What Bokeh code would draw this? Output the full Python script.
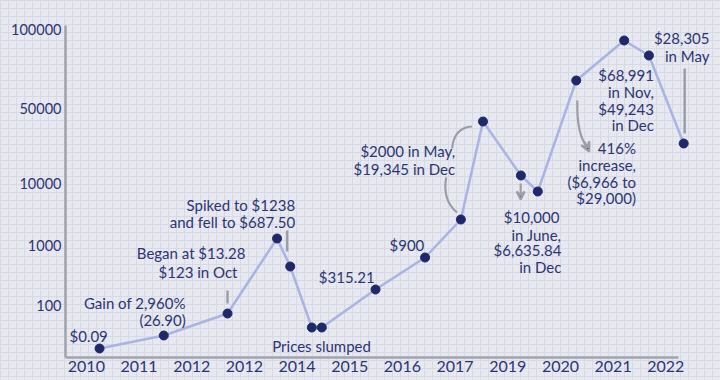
from bokeh.plotting import figure
from bokeh.models import Range1d, FixedTicker, Label, Arrow, VeeHead, GlobalInlineStyleSheet
from bokeh.embed import file_html
from bokeh.resources import INLINE

# ---- data (x = position among the axis labels, y = level on the chart's drawn scale) ----
TICK_LABELS = ["2010", "2011", "2012", "2012", "2014", "2015", "2016", "2017",
               "2019", "2020", "2021", "2022"]
X_POS = [0.25, 1.47, 2.68, 3.62, 3.87, 4.28, 4.47, 5.49, 6.43, 7.11, 7.53,
         8.25, 8.57, 9.30, 10.21, 10.68, 11.34]
Y_LEVEL = [9, 22, 44, 119, 91, 30, 30, 68, 100, 138, 236, 182, 166, 277, 317, 302, 214]
Y_TICK_LEVELS = [52, 112, 174, 249, 328]
Y_TICK_LABELS = ["100", "1000", "10000", "50000", "100000"]

NAVY = "#2c3572"
DOT = "#1f2868"
LINE = "#a9b4e2"
GREY = "#9c9ea7"
AXIS = "#a2a4ad"
FONT = "Lato"

# layout helpers (page pixel -> chart coordinates)
def dx(px):
    return (px - 82) / 53.0

def dy(py):
    return 357 - py

p = figure(width=704, height=371, output_backend="svg", toolbar_location=None,
           x_range=Range1d(dx(61), dx(712)), y_range=Range1d(dy(357), dy(8)),
           min_border_left=53, min_border_right=0, min_border_top=0, min_border_bottom=22)

p.stylesheets = [GlobalInlineStyleSheet(css="""
html { background-color: #e7e8f0;
  background-image: linear-gradient(#d7d9e5 1px, transparent 1px),
                    linear-gradient(90deg, #d7d9e5 1px, transparent 1px);
  background-size: 8px 8px; overflow: hidden; }
body { margin: 8px 8px 0 8px; overflow: hidden; background: transparent; }
""")]

p.background_fill_alpha = 0
p.border_fill_alpha = 0
p.outline_line_color = None
p.grid.visible = False

# axes
p.xaxis.ticker = FixedTicker(ticks=list(range(len(TICK_LABELS))))
p.xaxis.major_label_overrides = {i: t for i, t in enumerate(TICK_LABELS)}
p.yaxis.ticker = FixedTicker(ticks=Y_TICK_LEVELS)
p.yaxis.major_label_overrides = {v: t for v, t in zip(Y_TICK_LEVELS, Y_TICK_LABELS)}
for ax in (p.xaxis, p.yaxis):
    ax.axis_line_color = AXIS
    ax.axis_line_width = 2.5
    ax.major_tick_line_color = None
    ax.minor_tick_line_color = None
    ax.major_tick_out = 0
    ax.major_tick_in = 0
    ax.minor_tick_out = 0
    ax.minor_tick_in = 0
    ax.major_label_text_color = NAVY
    ax.major_label_text_font = FONT
p.xaxis.major_label_text_font_size = "16px"
p.yaxis.major_label_text_font_size = "14.5px"
p.xaxis.major_label_standoff = 3
p.yaxis.major_label_standoff = 4
p.xaxis.bounds = (dx(61), dx(678))
p.yaxis.bounds = (dy(357), dy(25))

# connecting line and dots
p.line(X_POS, Y_LEVEL, line_color=LINE, line_width=2.5)
p.scatter(X_POS, Y_LEVEL, size=9, fill_color=DOT, line_color=DOT)

# grey pointer strokes
for (x0, y0, x1, y1) in [(224, 290, 224, 303), (284, 230, 284, 251), (684, 68, 684, 133)]:
    p.segment(dx(x0), dy(y0), dx(x1), dy(y1), line_color=GREY, line_width=2.5)
p.quadratic(x0=[dx(470), dx(444)], y0=[dy(126), dy(177)],
            x1=[dx(450), dx(455)], y1=[dy(148), dy(212)],
            cx=[dx(452), dx(440)], cy=[dy(127), dy(200)],
            line_color=GREY, line_width=2.2)
p.quadratic(x0=dx(576), y0=dy(100), x1=dx(587), y1=dy(148), cx=dx(575), cy=dy(135),
            line_color=GREY, line_width=2.2)
p.add_layout(Arrow(end=VeeHead(size=9, line_color=GREY, line_width=2.2),
                   x_start=dx(583), y_start=dy(141), x_end=dx(588), y_end=dy(151),
                   line_color=GREY, line_width=2.2))
p.add_layout(Arrow(end=VeeHead(size=8, line_color=GREY, line_width=2.2),
                   x_start=dx(519), y_start=dy(183), x_end=dx(519), y_end=dy(199),
                   line_color=GREY, line_width=2.2))

# annotation texts
def txt(px, py, s, align="right"):
    p.add_layout(Label(x=dx(px), y=dy(py), text=s, text_align=align,
                       text_baseline="middle", text_color=NAVY, text_font=FONT,
                       text_font_size="15px"))

txt(65, 335, "$0.09", "left")
txt(182, 302, "Gain of 2,960%")
txt(182, 319, "(26.90)")
txt(242, 252, "Began at $13.28")
txt(234, 271, "$123 in Oct")
txt(292, 204, "Spiked to $1238")
txt(292, 221, "and fell to $687.50")
txt(269, 345, "Prices slumped", "left")
txt(372, 276, "$315.21")
txt(422, 244, "$900")
txt(453, 150, "$2000 in May,")
txt(453, 168, "$19,345 in Dec")
txt(558, 216, "$10,000")
txt(560, 234, "in June,")
txt(560, 249, "$6,635.84")
txt(560, 266, "in Dec")
txt(653, 74, "$68,991")
txt(653, 91, "in Nov,")
txt(653, 108, "$49,243")
txt(653, 124, "in Dec")
txt(635, 147, "416%")
txt(635, 164, "increase,")
txt(635, 181, "($6,966 to")
txt(635, 197, "$29,000)")
txt(709, 37, "$28,305")
txt(709, 55, "in May")

open("out.html", "w").write(file_html(p, INLINE))
